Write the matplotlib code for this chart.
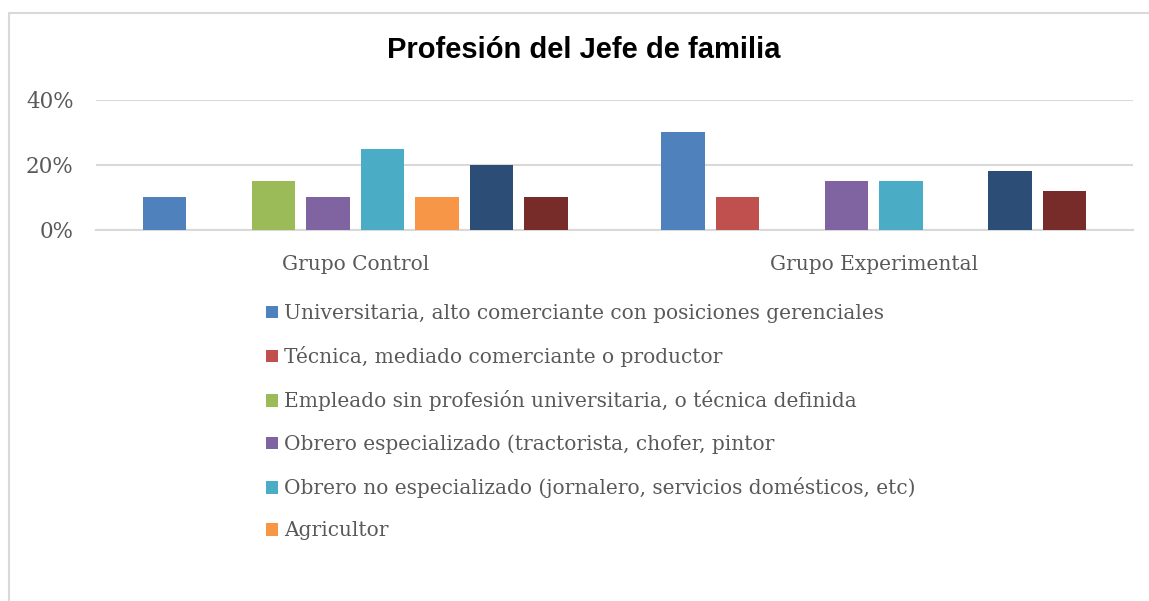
import matplotlib
matplotlib.use("Agg")
import matplotlib.pyplot as plt
from matplotlib.patches import Rectangle
import numpy as np

# ---- data ----
categories = ["Grupo Control", "Grupo Experimental"]
series_names = [
    "Universitaria, alto comerciante con posiciones gerenciales",
    "Técnica, mediado comerciante o productor",
    "Empleado sin profesión universitaria, o técnica definida",
    "Obrero especializado (tractorista, chofer, pintor",
    "Obrero no especializado (jornalero, servicios domésticos, etc)",
    "Agricultor",
    "Serie 7",
    "Serie 8",
]
control_values = [10, 0, 15, 10, 25, 10, 20, 10]
experimental_values = [30, 10, 0, 15, 15, 0, 18, 12]
legend_count = 6
yticks = [0, 20, 40]
ytick_labels = ["0%", "20%", "40%"]
title = "Profesión del Jefe de familia"

colors = ["#4F81BD", "#C0504D", "#9BBB59", "#8064A2", "#4BACC6", "#F79646",
          "#2C4D75", "#772C2A"]

W, H = 1149, 601
fig = plt.figure(figsize=(W / 100, H / 100), dpi=100)

# outer chart border (light gray)
fig.add_artist(Rectangle((9 / W, -0.1), 1.2, (H - 13) / H + 0.1,
                         transform=fig.transFigure, fill=False,
                         edgecolor="#D9D9D9", linewidth=1.5))

ax_left, ax_right = 96 / W, 1133 / W
ax_bottom, ax_top = (H - 229.7) / H, (H - 100) / H
ax = fig.add_axes([ax_left, ax_bottom, ax_right - ax_left, ax_top - ax_bottom])

serif = ["Cambria", "DejaVu Serif"]
tcolor = "#595959"

n = len(series_names)
slot = 0.105
bw = 0.084
x = np.arange(len(categories))
handles = []
for j in range(n):
    vals = [control_values[j], experimental_values[j]]
    b = ax.bar(x + (j - (n - 1) / 2) * slot, vals, width=bw, color=colors[j],
               label=series_names[j], zorder=3)
    handles.append(b)

ax.set_xlim(-0.5, len(categories) - 0.5)
ax.set_ylim(0, 40)
ax.set_yticks(yticks)
ax.set_yticklabels(ytick_labels, family=serif, fontsize=15.5, color=tcolor)
ax.set_xticks(x)
ax.set_xticklabels(categories, family=serif, fontsize=14.5, color=tcolor)
ax.tick_params(axis="both", length=0)
ax.tick_params(axis="y", pad=16)
ax.tick_params(axis="x", pad=18)
ax.grid(axis="y", color="#D9D9D9", linewidth=1.5, zorder=0)
for s in ["top", "right", "left"]:
    ax.spines[s].set_visible(False)
ax.spines["bottom"].set_color("#D9D9D9")
ax.spines["bottom"].set_linewidth(1.5)

fig.text(584 / W, (H - 50) / H, title, ha="center", va="center",
         family=["Liberation Sans", "DejaVu Sans"], fontweight="bold",
         fontsize=21, color="black")

leg = fig.legend(handles[:legend_count], series_names[:legend_count],
                 loc="upper left", bbox_to_anchor=(266 / W, (H - 304) / H),
                 frameon=False, prop={"family": serif, "size": 14.5},
                 handlelength=0.6, handleheight=0.6, handletextpad=0.3,
                 labelspacing=1.15, borderaxespad=0, borderpad=0)
for t in leg.get_texts():
    t.set_color(tcolor)

fig.savefig("out.png", dpi=100)
